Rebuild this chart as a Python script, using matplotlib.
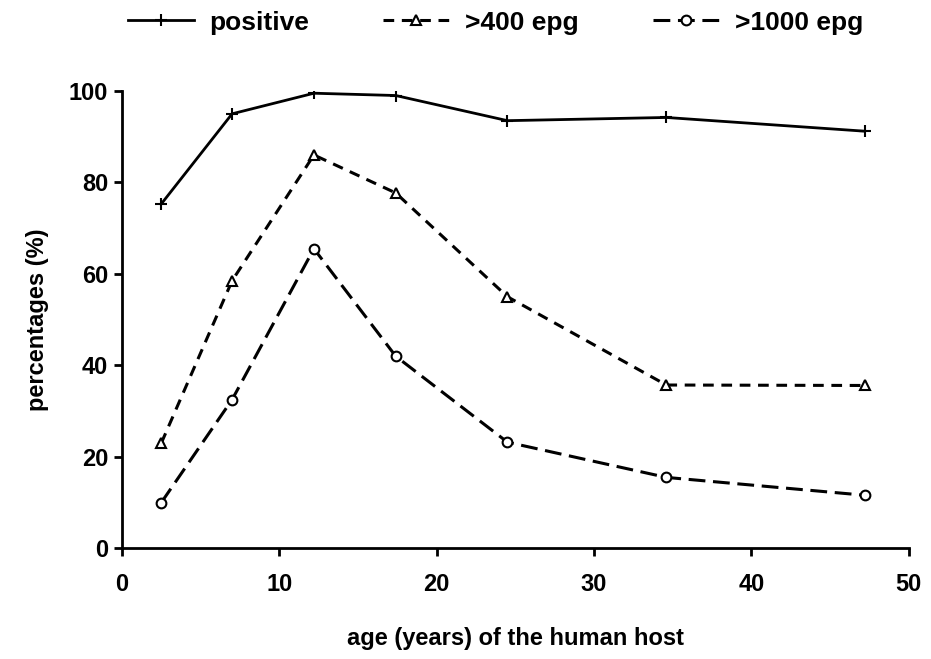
import matplotlib.pyplot as plt

plt.rcParams['font.family'] = ['Liberation Sans', 'DejaVu Sans']
plt.rcParams['font.weight'] = 'bold'
plt.rcParams['axes.labelweight'] = 'bold'

# Age class midpoints (years) and percentages
age = [2.5, 7.0, 12.2, 17.4, 24.5, 34.6, 47.2]
positive = [75.3, 95.0, 99.5, 99.0, 93.5, 94.2, 91.2]
over_400 = [23.0, 58.5, 86.0, 77.7, 55.0, 35.7, 35.6]
over_1000 = [10.0, 32.5, 65.5, 42.0, 23.2, 15.5, 11.6]

fig = plt.figure(figsize=(9.31, 6.59), dpi=100)
ax = fig.add_axes([0.131, 0.168, 0.845, 0.694])

l1, = ax.plot(age, positive, color='black', lw=2.0, marker='+', ms=9, mew=1.5,
              label='positive')
l2, = ax.plot(age, over_400, color='black', lw=2.2, ls=(0, (3.5, 2.5)),
              marker='^', ms=7, mfc='white', mew=1.5, label='>400 epg')
l3, = ax.plot(age, over_1000, color='black', lw=2.2, ls=(0, (5.5, 2.5)),
              marker='o', ms=7, mfc='white', mew=1.5, label='>1000 epg')

ax.set_xlim(0, 50)
ax.set_ylim(0, 100)
ax.set_xticks([0, 10, 20, 30, 40, 50])
ax.set_yticks([0, 20, 40, 60, 80, 100])
ax.spines['top'].set_visible(False)
ax.spines['right'].set_visible(False)
for s in ['left', 'bottom']:
    ax.spines[s].set_linewidth(2.0)
ax.tick_params(direction='out', length=6, width=2, labelsize=17)
ax.tick_params(axis='x', pad=12)
ax.tick_params(axis='y', pad=4)

ax.set_xlabel('age (years) of the human host', fontsize=17)
ax.xaxis.set_label_coords(0.5, -0.172)
ax.set_ylabel('percentages (%)', fontsize=17, labelpad=14)

fig.legend(handles=[l1, l2, l3], loc='upper center', bbox_to_anchor=(0.532, 1.02),
           ncol=3, frameon=False, fontsize=19, handlelength=2.5,
           columnspacing=2.8, handletextpad=0.6)

plt.savefig('out.png', dpi=100)
